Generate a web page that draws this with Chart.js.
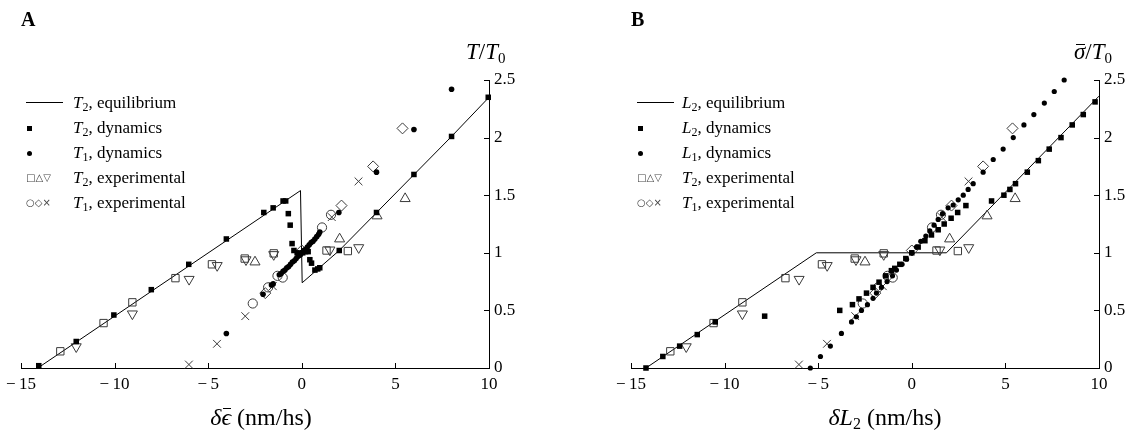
<!DOCTYPE html>
<html>
<head>
<meta charset="utf-8">
<script src="https://cdn.jsdelivr.net/npm/chart.js@4.4.1/dist/chart.umd.min.js"></script>
<style>
  body { margin: 0; background: #fff; }
  #page { position: relative; width: 1147px; height: 437px; overflow: hidden; font-family: 'Liberation Serif', 'DejaVu Serif', serif; color: #000; }
  canvas { position: absolute; top: 0; }
  .lbl { position: absolute; font-weight: bold; font-size: 20px; line-height: 20px; }
  .ytitle { position: absolute; font-size: 23px; line-height: 24px; white-space: nowrap; }
  .ytitle sub { font-size: 15px; vertical-align: -4px; }
  .xtitle { position: absolute; width: 300px; text-align: center; font-size: 24px; line-height: 26px; white-space: nowrap; }
  .xtitle sub { font-size: 16px; vertical-align: -4px; }
  .row { position: absolute; height: 20px; line-height: 20px; font-size: 17px; white-space: nowrap; }
  .sym { position: absolute; top: 0; height: 20px; }
  .txt { position: absolute; top: 0; }
  sub { font-size: 12px; vertical-align: -3px; line-height: 0; }
  .ov { position: relative; display: inline-block; }
  .ov .bar { position: absolute; left: 2px; right: 0; top: 4px; border-top: 1.5px solid #000; }
  .gl { font-family: 'DejaVu Sans', sans-serif; font-size: 10px; color: #444; letter-spacing: 0px; }
</style>
</head>
<body>
<div id="page">
  <canvas id="chartA" width="537" height="437" style="left:0"></canvas>
  <canvas id="chartB" width="537" height="437" style="left:610px"></canvas>

  <div class="lbl" style="left:21px;top:9px">A</div>
  <div class="lbl" style="left:631px;top:9px">B</div>

  <div class="ytitle" style="left:466px;top:40px"><i>T</i>/<i>T</i><sub>0</sub></div>
  <div class="ytitle" style="left:1074px;top:40px"><span class="ov"><i>σ</i><span class="bar"></span></span>/<i>T</i><sub>0</sub></div>

  <div class="xtitle" style="left:111px;top:404px"><i>δ</i><span class="ov"><i>ϵ</i><span class="bar"></span></span> (nm/hs)</div>
  <div class="xtitle" style="left:735px;top:404px"><i>δL</i><sub>2</sub> (nm/hs)</div>

  <!-- legend A -->
  <div class="row" style="left:0;top:93px"><span class="sym" style="left:26px;width:37px;"><span style="position:absolute;left:0;top:9px;width:37px;border-top:1px solid #000"></span></span><span class="txt" style="left:73px"><i>T</i><sub>2</sub>, equilibrium</span></div>
  <div class="row" style="left:0;top:118px"><span class="sym" style="left:27px;"><span style="position:absolute;left:0;top:8px;width:5px;height:5px;background:#000"></span></span><span class="txt" style="left:73px"><i>T</i><sub>2</sub>, dynamics</span></div>
  <div class="row" style="left:0;top:143px"><span class="sym" style="left:27px;"><span style="position:absolute;left:0;top:8px;width:5px;height:5px;border-radius:50%;background:#000"></span></span><span class="txt" style="left:73px"><i>T</i><sub>1</sub>, dynamics</span></div>
  <div class="row" style="left:0;top:168px"><span class="sym gl" style="left:26px;">□△▽</span><span class="txt" style="left:73px"><i>T</i><sub>2</sub>, experimental</span></div>
  <div class="row" style="left:0;top:193px"><span class="sym gl" style="left:26px;">○◇×</span><span class="txt" style="left:73px"><i>T</i><sub>1</sub>, experimental</span></div>

  <!-- legend B -->
  <div class="row" style="left:0;top:93px"><span class="sym" style="left:637px;width:37px;"><span style="position:absolute;left:0;top:9px;width:37px;border-top:1px solid #000"></span></span><span class="txt" style="left:682px"><i>L</i><sub>2</sub>, equilibrium</span></div>
  <div class="row" style="left:0;top:118px"><span class="sym" style="left:638px;"><span style="position:absolute;left:0;top:8px;width:5px;height:5px;background:#000"></span></span><span class="txt" style="left:682px"><i>L</i><sub>2</sub>, dynamics</span></div>
  <div class="row" style="left:0;top:143px"><span class="sym" style="left:638px;"><span style="position:absolute;left:0;top:8px;width:5px;height:5px;border-radius:50%;background:#000"></span></span><span class="txt" style="left:682px"><i>L</i><sub>1</sub>, dynamics</span></div>
  <div class="row" style="left:0;top:168px"><span class="sym gl" style="left:637px;">□△▽</span><span class="txt" style="left:682px"><i>T</i><sub>2</sub>, experimental</span></div>
  <div class="row" style="left:0;top:193px"><span class="sym gl" style="left:637px;">○◇×</span><span class="txt" style="left:682px"><i>T</i><sub>1</sub>, experimental</span></div>
</div>

<script>
// axis ticks
var xTicks = [-15, -10, -5, 0, 5, 10];
var yTicks = [0, 0.5, 1, 1.5, 2, 2.5];

// panel A: T2 equilibrium curve and dynamics
var eqA = [[-14.1, 0], [-0.07, 1.54], [0.02, 0.74], [2, 1.02], [4, 1.35], [6, 1.68], [8, 2.01], [10, 2.35]];
var dynT2A = [[-14.05, 0.02], [-12.05, 0.23], [-10.04, 0.46], [-8.04, 0.68], [-6.04, 0.90], [-4.03, 1.12],
    [-2.03, 1.35], [-1.53, 1.39], [-1.0, 1.45], [-0.86, 1.45], [-0.72, 1.34], [-0.62, 1.24], [-0.52, 1.08],
    [-0.42, 1.02], [-0.25, 1.0], [-0.1, 0.99], [0.05, 1.0], [0.2, 1.01], [0.34, 1.01], [0.43, 0.94],
    [0.52, 0.91], [0.7, 0.85], [0.85, 0.86], [0.96, 0.87], [2.0, 1.02], [3.99, 1.35], [5.99, 1.68],
    [8.0, 2.01], [9.96, 2.35]];
var dynT1A = [[-4.03, 0.30], [-2.07, 0.64], [-1.62, 0.72], [-1.53, 0.73], [-1.2, 0.81], [-1.1, 0.82],
    [-1.0, 0.84], [-0.9, 0.85], [-0.8, 0.87], [-0.7, 0.88], [-0.6, 0.90], [-0.5, 0.92], [-0.4, 0.93],
    [-0.3, 0.95], [-0.2, 0.97], [-0.1, 0.98], [0, 1.0], [0.1, 1.02], [0.2, 1.03], [0.3, 1.05], [0.4, 1.07],
    [0.5, 1.09], [0.6, 1.10], [0.7, 1.12], [0.8, 1.14], [0.9, 1.16], [0.96, 1.18], [1.98, 1.35],
    [3.99, 1.70], [5.99, 2.07], [8.0, 2.42]];

// panel B: L2 equilibrium curve and dynamics
var eqB = [[-14.2, 0], [-5.1, 1.0], [1.85, 1.0], [10, 2.36]];
var dynL2B = [[-14.2, 0.0], [-13.3, 0.10], [-12.4, 0.19], [-11.46, 0.29], [-10.5, 0.40], [-7.86, 0.45],
    [-3.85, 0.50], [-3.17, 0.55], [-2.82, 0.60], [-2.42, 0.65], [-2.07, 0.70], [-1.75, 0.745], [-1.39, 0.80],
    [-1.09, 0.845], [-0.91, 0.865], [-0.64, 0.90], [-0.32, 0.95], [0, 1.0], [0.34, 1.05], [0.7, 1.105],
    [1.05, 1.155], [1.41, 1.20], [1.73, 1.25], [2.1, 1.30], [2.45, 1.35], [2.89, 1.41], [4.26, 1.45],
    [4.92, 1.50], [5.24, 1.55], [5.54, 1.60], [6.17, 1.70], [6.76, 1.80], [7.34, 1.90], [7.97, 2.0],
    [8.57, 2.11], [9.16, 2.20], [9.79, 2.31]];
var dynL1B = [[-5.42, 0.0], [-4.88, 0.10], [-4.35, 0.19], [-3.76, 0.30], [-3.22, 0.40], [-2.96, 0.445],
    [-2.69, 0.50], [-2.37, 0.55], [-2.07, 0.605], [-1.89, 0.65], [-1.62, 0.70], [-1.32, 0.75], [-1.03, 0.80],
    [-0.82, 0.85], [-0.52, 0.90], [-0.28, 0.945], [0, 1.0], [0.25, 1.05], [0.48, 1.10], [0.75, 1.145],
    [0.96, 1.19], [1.19, 1.24], [1.41, 1.29], [1.64, 1.34], [1.94, 1.39], [2.21, 1.415], [2.48, 1.46],
    [2.75, 1.50], [3.01, 1.55], [3.28, 1.60], [3.81, 1.70], [4.35, 1.81], [4.88, 1.90], [5.42, 2.0],
    [5.99, 2.11], [6.52, 2.20], [7.08, 2.30], [7.61, 2.40], [8.14, 2.5]];

// experimental points (same in both panels)
var expSquare = [[-12.9, 0.145], [-10.59, 0.39], [-9.05, 0.57], [-6.75, 0.78], [-4.8, 0.90], [-3.05, 0.95],
    [-1.5, 0.995], [1.32, 1.02], [2.46, 1.015]];
var expUp = [[-2.5, 0.92], [2.02, 1.12], [4.02, 1.32], [5.52, 1.47]];
var expDown = [[-12.05, 0.185], [-9.05, 0.47], [-6.02, 0.77], [-4.52, 0.89], [-2.98, 0.94], [-1.5, 0.985],
    [1.5, 1.025], [3.04, 1.045]];
var expCircle = [[-2.62, 0.56], [-1.8, 0.70], [-1.3, 0.80], [-1.02, 0.785], [1.08, 1.22], [1.56, 1.33]];
var expDiamond = [[-1.95, 0.65], [0.0, 1.02], [2.12, 1.41], [3.81, 1.75], [5.38, 2.08]];
var expCross = [[-6.03, 0.03], [-4.53, 0.21], [-3.02, 0.45], [-1.55, 0.71], [1.6, 1.31], [3.03, 1.62]];

var FONT = "'Liberation Serif', 'DejaVu Serif', serif";

function pts(a) {
    return a.map(function (p) { return { x: p[0], y: p[1] }; });
}

// filled markers (dynamics)
function filled(data, style, r) {
    return {
        data: pts(data), pointStyle: style, pointRadius: r,
        pointBackgroundColor: '#000', pointBorderColor: '#000', pointBorderWidth: 0,
        showLine: false, clip: false
    };
}

// open grey markers (experiments)
function open(data, style, r, rot) {
    return {
        data: pts(data), pointStyle: style, pointRadius: r, pointRotation: rot || 0,
        pointBackgroundColor: 'rgba(0,0,0,0)', pointBorderColor: '#3a3a3a', pointBorderWidth: 1,
        showLine: false, clip: false
    };
}

function experimental() {
    return [
        open(expSquare, 'rect', 5.2),
        open(expUp, 'triangle', 5.8),
        open(expDown, 'triangle', 5.8, 180),
        open(expCircle, 'circle', 4.6),
        open(expDiamond, 'rectRot', 5.5),
        open(expCross, 'crossRot', 5.5)
    ];
}

// short tick marks pointing into the plot
var inwardTicks = {
    id: 'inwardTicks',
    afterDraw: function (chart) {
        var ctx = chart.ctx, xs = chart.scales.x, ys = chart.scales.y;
        ctx.save();
        ctx.strokeStyle = '#000';
        ctx.lineWidth = 1;
        ctx.beginPath();
        xs.ticks.forEach(function (t) {
            var px = Math.round(xs.getPixelForValue(t.value)) + 0.5;
            ctx.moveTo(px, ys.bottom);
            ctx.lineTo(px, ys.bottom - 5);
        });
        ys.ticks.forEach(function (t) {
            var py = Math.round(ys.getPixelForValue(t.value)) + 0.5;
            ctx.moveTo(xs.right, py);
            ctx.lineTo(xs.right - 5, py);
        });
        ctx.stroke();
        ctx.restore();
    }
};

function makeChart(id, eq, sq, dots, dotRadius) {
    var datasets = [filled(sq, 'rect', 3.9), filled(dots, 'circle', dotRadius)]
        .concat(experimental())
        .concat([{
            data: pts(eq), showLine: true, pointRadius: 0, borderColor: '#000', borderWidth: 1,
            tension: 0, fill: false, clip: false
        }]);

    return new Chart(document.getElementById(id), {
        type: 'scatter',
        data: { datasets: datasets },
        plugins: [inwardTicks],
        options: {
            responsive: false,
            animation: false,
            events: [],
            layout: { padding: { left: 21, right: 8, top: 80, bottom: 39 } },
            plugins: { legend: { display: false }, tooltip: { enabled: false } },
            scales: {
                x: {
                    type: 'linear', min: -15, max: 10,
                    afterBuildTicks: function (s) { s.ticks = xTicks.map(function (v) { return { value: v }; }); },
                    afterFit: function (s) { s.height = 30; s.paddingLeft = 0; s.paddingRight = 0; },
                    grid: { display: true, drawOnChartArea: false, drawTicks: false },
                    border: { display: true, color: '#000', width: 1 },
                    ticks: {
                        padding: 6, color: '#000', maxRotation: 0, autoSkip: false,
                        font: { family: FONT, size: 17 },
                        callback: function (v) { return v < 0 ? '\u2212\u2009' + Math.abs(v) : String(v); }
                    }
                },
                y: {
                    type: 'linear', position: 'right', min: 0, max: 2.5,
                    afterBuildTicks: function (s) { s.ticks = yTicks.map(function (v) { return { value: v }; }); },
                    afterFit: function (s) { s.width = 40; s.paddingTop = 0; s.paddingBottom = 0; },
                    grid: { display: true, drawOnChartArea: false, drawTicks: false },
                    border: { display: true, color: '#000', width: 1 },
                    ticks: {
                        padding: 5, color: '#000', autoSkip: false,
                        font: { family: FONT, size: 17 },
                        callback: function (v) { return String(v); }
                    }
                }
            }
        }
    });
}

makeChart('chartA', eqA, dynT2A, dynT1A, 2.8);
makeChart('chartB', eqB, dynL2B, dynL1B, 2.6);
</script>
</body>
</html>
